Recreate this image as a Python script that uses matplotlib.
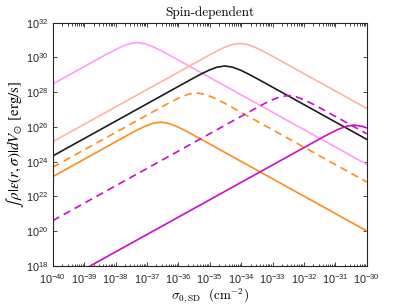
import numpy as np
import matplotlib
matplotlib.use("Agg")
import matplotlib.pyplot as plt
from matplotlib.ticker import LogLocator, NullFormatter

plt.rcParams['font.family'] = ['Liberation Sans', 'DejaVu Sans']

# log10(sigma_0,SD / cm^-2) and log10(luminosity / erg s^-1)
pink_x = [-40, -39, -38.31, -38, -37.81, -37.56, -37.31, -37.06, -36.81, -36.56, -36.31,
          -36, -35, -34, -33, -32, -31, -30]
pink_y = [28.47, 29.47, 30.16, 30.45, 30.62, 30.79, 30.86, 30.79, 30.62, 30.40, 30.16,
          29.85, 28.85, 27.85, 26.85, 25.85, 24.85, 23.85]

peach_x = [-40, -39, -38, -37, -36, -35.04, -34.79, -34.54, -34.29, -34.04, -33.79,
           -33.54, -33.29, -33.04, -32, -31, -30]
peach_y = [25.15, 26.15, 27.15, 28.15, 29.15, 30.11, 30.35, 30.57, 30.74, 30.81, 30.74,
           30.57, 30.35, 30.11, 29.07, 28.07, 27.07]

black_x = [-40, -39, -38, -37, -36, -35.52, -35.27, -35.02, -34.77, -34.52, -34.27,
           -34.02, -33.77, -33.52, -33, -32, -31, -30]
black_y = [24.33, 25.33, 26.33, 27.33, 28.33, 28.81, 29.05, 29.27, 29.44, 29.51, 29.44,
           29.27, 29.05, 28.81, 28.29, 27.29, 26.29, 25.29]

orange_dash_x = [-40, -39, -38, -37, -36.42, -36.17, -35.92, -35.67, -35.42, -35.17,
                 -34.92, -34.67, -34.42, -34, -33, -32, -31, -30]
orange_dash_y = [23.68, 24.68, 25.68, 26.68, 27.26, 27.50, 27.72, 27.89, 27.96, 27.89,
                 27.72, 27.50, 27.26, 26.84, 25.84, 24.84, 23.84, 22.84]

orange_x = [-40, -39, -38, -37.56, -37.31, -37.06, -36.81, -36.56, -36.31, -36.06,
            -35.81, -35.56, -35, -34, -33, -32, -31, -30]
orange_y = [23.14, 24.14, 25.14, 25.58, 25.82, 26.04, 26.21, 26.28, 26.21, 26.04,
            25.82, 25.58, 25.02, 24.02, 23.02, 22.02, 21.02, 20.02]

magenta_dash_x = [-40, -39, -38, -37, -36, -35, -34, -33.5, -33.25, -33, -32.75, -32.5,
                  -32.25, -32, -31.75, -31.5, -31, -30]
magenta_dash_y = [20.61, 21.61, 22.61, 23.61, 24.61, 25.61, 26.61, 27.11, 27.35, 27.57,
                  27.74, 27.81, 27.74, 27.57, 27.35, 27.11, 26.61, 25.61]

magenta_x = [-40, -39, -38, -37, -36, -35, -34, -33, -32, -31.4, -31.15, -30.9, -30.65,
             -30.4, -30.15, -30]
magenta_y = [16.81, 17.81, 18.81, 19.81, 20.81, 21.81, 22.81, 23.81, 24.81, 25.41, 25.65,
             25.87, 26.04, 26.11, 26.04, 25.95]

fig = plt.figure(figsize=(4.05, 3.04), dpi=100)
ax = fig.add_axes([52.7 / 405, 1 - 266 / 304, 314 / 405, 243.3 / 304])

lw = 1.2
dash = (4.5, 3)
curves = [
    (pink_x, pink_y, '#ff9cf8', '-'),
    (peach_x, peach_y, '#ffb49c', '-'),
    (black_x, black_y, '#1c1c1c', '-'),
    (orange_dash_x, orange_dash_y, '#ff8c1a', '--'),
    (orange_x, orange_y, '#ff8c1a', '-'),
    (magenta_dash_x, magenta_dash_y, '#cc0ccc', '--'),
    (magenta_x, magenta_y, '#cc0ccc', '-'),
]
for xs, ys, c, ls in curves:
    line, = ax.plot(10.0 ** np.array(xs), 10.0 ** np.array(ys), color=c, lw=lw, ls=ls)
    if ls == '--':
        line.set_dashes(dash)

ax.set_xscale('log')
ax.set_yscale('log')
ax.set_xlim(1e-40, 1e-30)
ax.set_ylim(1e18, 1e32)

ax.xaxis.set_major_locator(LogLocator(base=10, numticks=20))
ax.xaxis.set_minor_locator(LogLocator(base=10, subs=np.arange(2, 10), numticks=20))
ax.xaxis.set_minor_formatter(NullFormatter())
ax.set_yticks([10.0 ** k for k in range(18, 33, 2)])
ax.yaxis.set_minor_locator(plt.NullLocator())

ax.tick_params(which='both', direction='in', top=True, right=True, labelsize=7.8,
               width=0.6, colors='#262626')
ax.tick_params(axis='x', pad=4.5)
ax.tick_params(axis='y', pad=3)
ax.tick_params(which='major', length=3)
ax.tick_params(which='minor', length=1.8)
for s in ax.spines.values():
    s.set_linewidth(0.8)
    s.set_color('#262626')

ax.set_title('Spin-dependent', fontfamily='cmr10', fontsize=9.5, pad=5)
ax.set_xlabel(r'$\sigma_{0,\mathrm{SD}}\ \ (\mathrm{cm}^{-2})$', fontsize=9.5,
              math_fontfamily='cm', labelpad=0)
ax.set_ylabel(r'$\int\,\rho|\epsilon(r,\sigma)|dV_{\odot}$ $[\mathrm{erg/s}]$',
              fontsize=10.8, math_fontfamily='stix')
ax.yaxis.set_label_coords(-0.085, 0.5)

fig.savefig('out.png', dpi=100)
